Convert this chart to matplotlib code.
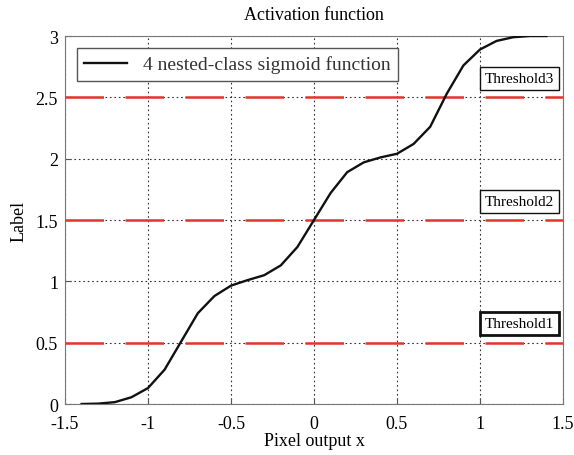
import numpy as np
import matplotlib.pyplot as plt

plt.rcParams['font.family'] = ['Liberation Serif', 'DejaVu Serif']
plt.rcParams['xtick.direction'] = 'in'
plt.rcParams['ytick.direction'] = 'in'

# curve
x_vals = [-1.4, -1.3, -1.2, -1.1, -1.0, -0.9, -0.8, -0.7, -0.6, -0.5, -0.4, -0.3, -0.2, -0.1,
          0.0, 0.1, 0.2, 0.3, 0.4, 0.5, 0.6, 0.7, 0.8, 0.9, 1.0, 1.1, 1.2, 1.3, 1.4]
y_vals = [0.0, 0.003, 0.015, 0.055, 0.13, 0.28, 0.51, 0.74, 0.88, 0.965, 1.01, 1.05, 1.13, 1.28,
          1.5, 1.72, 1.89, 1.97, 2.01, 2.04, 2.12, 2.26, 2.53, 2.76, 2.89, 2.96, 2.99, 3.0, 3.0]

thresholds = [0.5, 1.5, 2.5]
threshold_names = ['Threshold1', 'Threshold2', 'Threshold3']
label_x = 1.238
label_y = [0.656, 1.654, 2.657]

fig = plt.figure(figsize=(5.74, 4.56), dpi=100)
ax = fig.add_axes([65 / 574, 1 - 405 / 456, 498 / 574, 368 / 456])

ax.plot(x_vals, y_vals, color='#111111', lw=1.7, label='4 nested-class sigmoid function', zorder=4)
for t in thresholds:
    ax.plot([-1.5, 1.5], [t, t], color='#e3352b', lw=1.8, dashes=(15.4, 8.6), zorder=3)

for i, name in enumerate(threshold_names):
    ax.text(label_x, label_y[i], name, ha='center', va='center', fontsize=11,
            bbox=dict(boxstyle='square,pad=0.33', fc='white', ec='#111111',
                      lw=2.0 if i == 0 else 1.0), zorder=5)

ax.set_xlim(-1.5, 1.5)
ax.set_ylim(0, 3)
ax.set_xticks([-1.5, -1, -0.5, 0, 0.5, 1, 1.5])
ax.set_xticklabels(['-1.5', '-1', '-0.5', '0', '0.5', '1', '1.5'])
ax.set_yticks([0, 0.5, 1, 1.5, 2, 2.5, 3])
ax.set_yticklabels(['0', '0.5', '1', '1.5', '2', '2.5', '3'])
ax.tick_params(labelsize=13, length=4, color='#555555')
ax.tick_params(axis='x', pad=8)
ax.tick_params(axis='y', pad=5)
ax.grid(True, color='#333333', linestyle=(0, (1.5, 2.5)), lw=0.8)
for s in ax.spines.values():
    s.set_color('#777777')

ax.set_title('Activation function', fontsize=13, pad=12)
ax.set_xlabel('Pixel output x', fontsize=13, labelpad=0)
ax.set_ylabel('Label', fontsize=13, labelpad=6)

leg = ax.legend(loc='upper left', fontsize=14, fancybox=False, framealpha=1,
                edgecolor='#555555', handlelength=2.2, borderaxespad=0.6)
leg.get_frame().set_linewidth(1.0)
for txt in leg.get_texts():
    txt.set_color('#333333')

fig.savefig('out.png', dpi=100)
